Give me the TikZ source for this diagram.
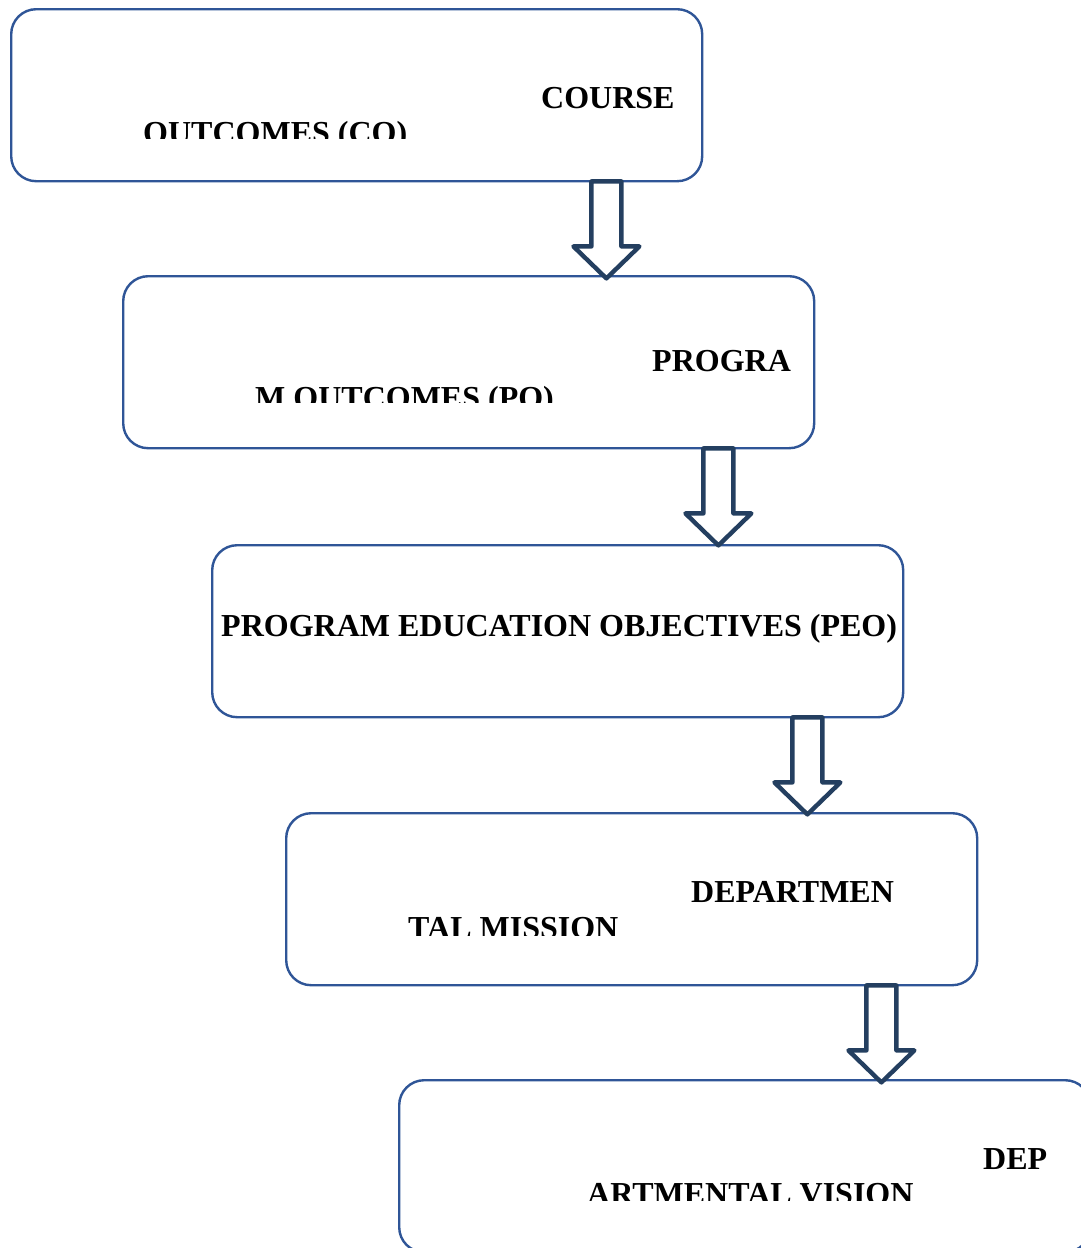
\documentclass[tikz,border=0pt]{standalone}
\usepackage{fontspec}
\setmainfont{Liberation Serif}
\definecolor{boxblue}{RGB}{47,85,151}
\definecolor{arrownavy}{RGB}{36,63,96}
\begin{document}
\begin{tikzpicture}[x=1pt,y=-1pt,
  box/.style={draw=boxblue, line width=2.4pt, rounded corners=25pt, fill=white,
    minimum width=691pt, minimum height=172pt, anchor=north west, inner sep=0pt},
  lbl/.style={inner sep=0pt, font=\fontsize{32}{38}\selectfont\bfseries, text=black},
  arrowstyle/.style={draw=arrownavy, line width=4.4pt, fill=white, line join=round},
  dnarrow/.pic={\draw[arrowstyle] (-15,-1) -- (-15,64) -- (-33,64) -- (0,96) -- (33,64) -- (15,64) -- (15,-1) -- cycle;}
]
\useasboundingbox (0,0) rectangle (1081,1248);
\clip (0,0) rectangle (1081,1248);
\fill[white] (0,0) rectangle (1081,1248);

% boxes
\node[box] (b1) at (10,8) {};
\node[box] (b2) at (122,275) {};
\node[box] (b3) at (211,544) {};
\node[box] (b4) at (285,812) {};
\node[box] (b5) at (398,1079) {};

% labels
\node[lbl, anchor=base west] (t1a) at (541,108) {COURSE};
\begin{scope}
  \clip (b1.north west) rectangle (701,138.5);
  \node[lbl, anchor=base west] (t1b) at (143,143.5) {OUTCOMES (CO)};
\end{scope}

\node[lbl, anchor=base west] (t2a) at (652,371) {PROGRA};
\begin{scope}
  \clip (b2.north west) rectangle (813,402);
  \node[lbl, anchor=base west] (t2b) at (255,408) {M OUTCOMES (PO)};
\end{scope}

\node[lbl, anchor=base west] (t3) at (221,636) {PROGRAM EDUCATION OBJECTIVES (PEO)};

\node[lbl, anchor=base west] (t4a) at (691,902) {DEPARTMEN};
\begin{scope}
  \clip (b4.north west) rectangle (975,935);
  \node[lbl, anchor=base west] (t4b) at (408,938) {TAL MISSION};
\end{scope}

\node[lbl, anchor=base west] (t5a) at (983,1169) {DEP};
\begin{scope}
  \clip (b5.north west) rectangle (1081,1200);
  \node[lbl, anchor=base west] (t5b) at (587,1204) {ARTMENTAL VISION};
\end{scope}

% block arrows
\pic at ([xshift=-97pt]b1.south east) {dnarrow};
\pic at ([xshift=-97pt]b2.south east) {dnarrow};
\pic at ([xshift=-97pt]b3.south east) {dnarrow};
\pic at ([xshift=-97pt]b4.south east) {dnarrow};
\end{tikzpicture}
\end{document}
